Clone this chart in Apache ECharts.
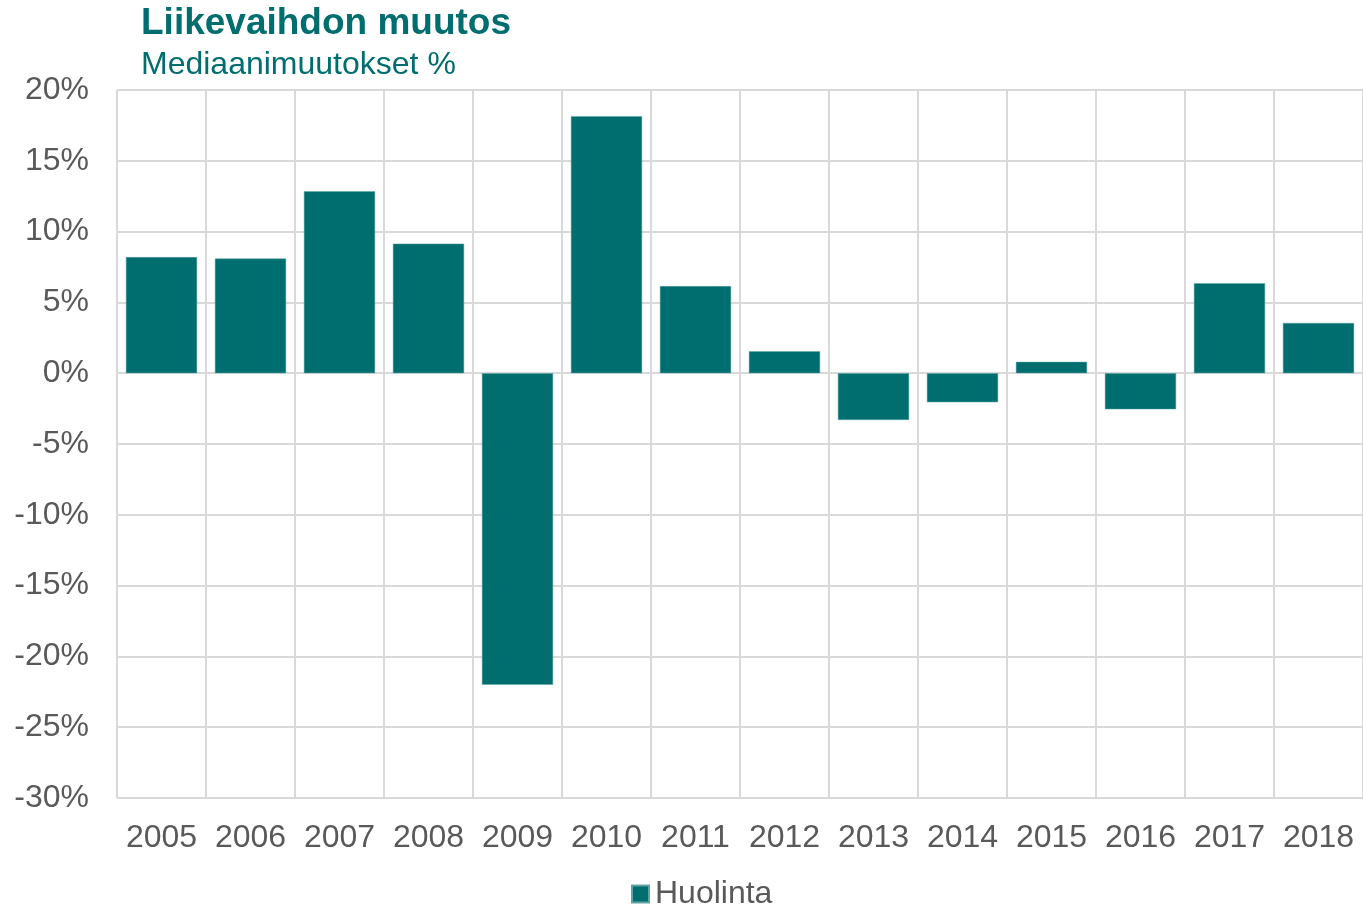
<!DOCTYPE html>
<html><head><meta charset="utf-8">
<script src="https://cdn.jsdelivr.net/npm/echarts@6/dist/echarts.min.js"></script>
<style>html,body{margin:0;padding:0;background:#fff}#c{width:1363px;height:910px}</style>
</head><body><div id="c"></div>
<script>
var categories = ['2005','2006','2007','2008','2009','2010','2011','2012','2013','2014','2015','2016','2017','2018'];
var huolinta = [8.2, 8.1, 12.85, 9.15, -22.0, 18.15, 6.15, 1.55, -3.3, -2.05, 0.8, -2.55, 6.35, 3.55];
var seriesName = 'Huolinta';
var titleText = 'Liikevaihdon muutos';
var subtitleText = 'Mediaanimuutokset %';
var teal = '#006E6E';
var chart = echarts.init(document.getElementById('c'));
chart.setOption({
  animation: false,
  title: {
    text: titleText, subtext: subtitleText, left: 136, top: 0, itemGap: 7,
    textStyle: {fontFamily: 'Liberation Sans', fontWeight: 'bold', fontSize: 37, color: teal},
    subtextStyle: {fontFamily: 'Liberation Sans', fontSize: 32, color: teal}
  },
  legend: {
    top: 878, left: 631, padding: 0, itemWidth: 17, itemHeight: 17, icon: 'rect',
    textStyle: {fontFamily: 'Liberation Sans', fontSize: 32, color: '#595959', padding: [0, 0, 0, 1]},
    data: [seriesName]
  },
  grid: {left: 117, right: 0, top: 90, bottom: 112},
  xAxis: {
    type: 'category', data: categories,
    axisLine: {lineStyle: {color: '#d9d9d9', width: 2}},
    axisTick: {show: false},
    splitLine: {show: true, interval: 0, lineStyle: {color: '#d9d9d9', width: 2}},
    axisLabel: {interval: 0, hideOverlap: false, fontFamily: 'Liberation Sans', fontSize: 32, color: '#595959', margin: 24}
  },
  yAxis: {
    type: 'value', min: -30, max: 20, interval: 5,
    axisLine: {show: false}, axisTick: {show: false},
    splitLine: {lineStyle: {color: '#d9d9d9', width: 2}},
    axisLabel: {fontFamily: 'Liberation Sans', fontSize: 32, color: '#595959', margin: 28, formatter: '{value}%'}
  },
  series: [{
    name: seriesName, type: 'bar', data: huolinta, barWidth: '80%',
    itemStyle: {color: teal, borderColor: '#5fa3a3', borderWidth: 0.5}
  }]
});
</script></body></html>
